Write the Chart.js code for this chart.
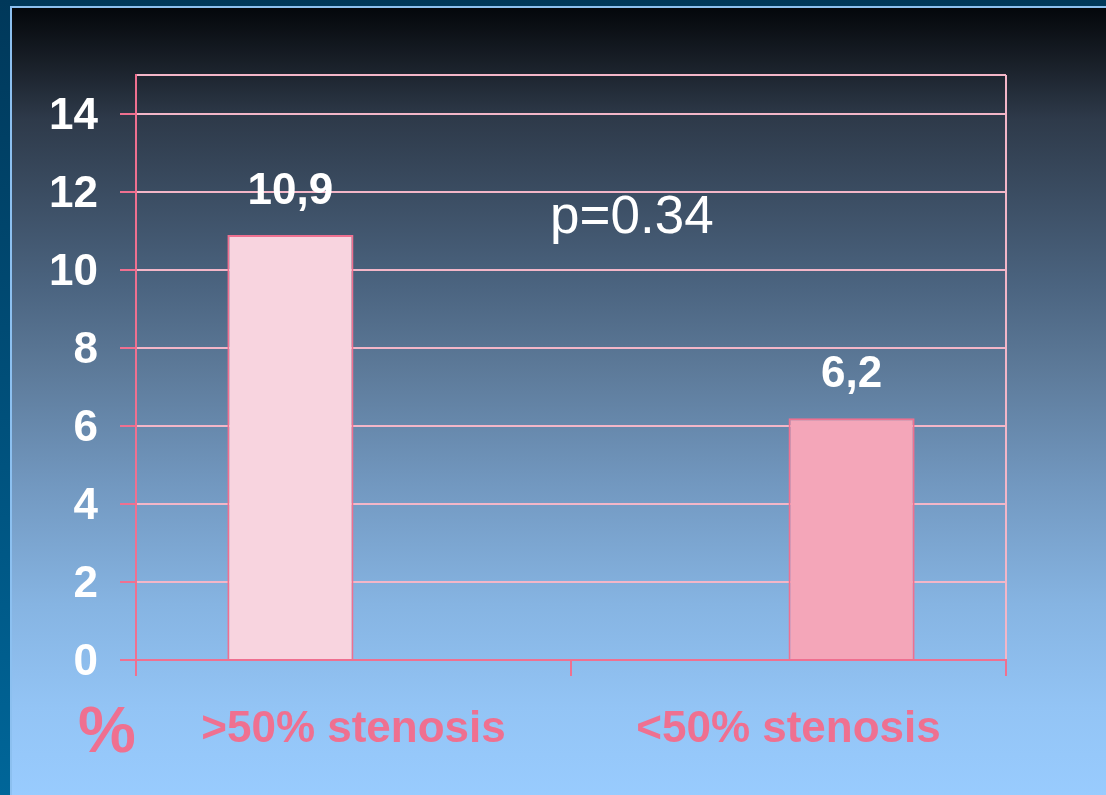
<!DOCTYPE html>
<html>
<head>
<meta charset="utf-8">
<script src="https://cdn.jsdelivr.net/npm/chart.js@4/dist/chart.umd.min.js"></script>
<style>
  body { margin: 0; width: 1106px; height: 795px; overflow: hidden;
    background: linear-gradient(#00385a, #006699); }
  #panel { position: absolute; left: 10px; top: 6px; width: 1100px; height: 795px;
    border-left: 2px solid #8cc0f0; border-top: 2px solid #8cc0f0;
    background: linear-gradient(#04070b 0%, #161c24 6%, #2e3a4a 14%, #4b6480 35%,
      #5c7998 45%, #7298c0 60%, #86b4e2 75%, #93c4f5 88%, #99ccff 100%); }
  #wrap { position: absolute; left: 0; top: 0; width: 1106px; height: 795px; }
</style>
</head>
<body>
<div id="panel"></div>
<div id="wrap"><canvas id="stenosisChart" width="1106" height="795"></canvas></div>
<script>
const categories = ['>50% stenosis', '<50% stenosis'];
const highStenosis = [10.9, null];
const lowStenosis = [null, 6.2];
const valueLabels = ['10,9', '6,2'];
const yTicks = [0, 2, 4, 6, 8, 10, 12, 14, 15];
const pValueText = 'p=0.34';
const unitText = '%';

const darkPink = '#ef7090';
const lightPink = '#f3b6c8';
const fontFamily = '"Liberation Sans", Arial, sans-serif';

// value labels above the bars, p value and the % unit
const textPlugin = {
  id: 'slideText',
  afterDatasetsDraw(chart) {
    const ctx = chart.ctx;
    const x = chart.scales.x;
    const y = chart.scales.y;
    ctx.save();
    ctx.fillStyle = '#ffffff';
    ctx.font = 'bold 44px ' + fontFamily;
    ctx.textAlign = 'center';
    ctx.textBaseline = 'middle';
    chart.data.datasets.forEach((ds, di) => {
      chart.getDatasetMeta(di).data.forEach((bar, i) => {
        if (ds.data[i] === null) return;
        ctx.fillText(valueLabels[i], bar.x, bar.y - 43);
      });
    });
    ctx.font = '53px ' + fontFamily;
    ctx.textBaseline = 'alphabetic';
    ctx.fillText(pValueText, x.getPixelForValue(0.64), y.getPixelForValue(10.95));
    ctx.fillStyle = darkPink;
    ctx.font = 'bold 65px ' + fontFamily;
    ctx.textBaseline = 'middle';
    ctx.fillText(unitText, chart.chartArea.left - 29, chart.chartArea.bottom + 74);
    ctx.restore();
  }
};

new Chart(document.getElementById('stenosisChart'), {
  type: 'bar',
  data: {
    labels: categories,
    datasets: [
      {
        data: highStenosis,
        backgroundColor: '#f8d4df',
        borderColor: darkPink,
        borderWidth: 2,
        categoryPercentage: 0.58,
        barPercentage: 1.0
      },
      {
        data: lowStenosis,
        backgroundColor: '#f4a6b9',
        borderColor: darkPink,
        borderWidth: 2,
        categoryPercentage: 0.58,
        barPercentage: 1.0
      }
    ]
  },
  options: {
    responsive: false,
    animation: false,
    layout: { padding: { left: 0, top: 75, right: 100, bottom: 0 } },
    plugins: { legend: { display: false }, tooltip: { enabled: false } },
    scales: {
      x: {
        grid: {
          offset: true,
          lineWidth: 2,
          tickLength: 16,
          color: (c) => c.type !== 'tick' ? lightPink : (c.index === 0 ? darkPink : 'transparent'),
          tickColor: darkPink
        },
        border: { color: darkPink, width: 2 },
        ticks: {
          color: darkPink,
          padding: 27,
          font: { family: fontFamily, size: 44, weight: 'bold' }
        },
        afterFit(scale) { scale.height = 135; }
      },
      y: {
        min: 0,
        max: 15,
        afterBuildTicks(scale) { scale.ticks = yTicks.map(v => ({ value: v })); },
        grid: {
          lineWidth: 2,
          tickLength: 16,
          color: lightPink,
          tickColor: (c) => c.tick && c.tick.value === 15 ? 'transparent' : darkPink
        },
        border: { color: darkPink, width: 2 },
        ticks: {
          color: '#ffffff',
          padding: 22,
          labelOffset: 3,
          callback: (v) => v === 15 ? '' : v,
          font: { family: fontFamily, size: 44, weight: 'bold' }
        },
        afterFit(scale) { scale.width = 136; }
      }
    }
  },
  plugins: [textPlugin]
});
</script>
</body>
</html>
